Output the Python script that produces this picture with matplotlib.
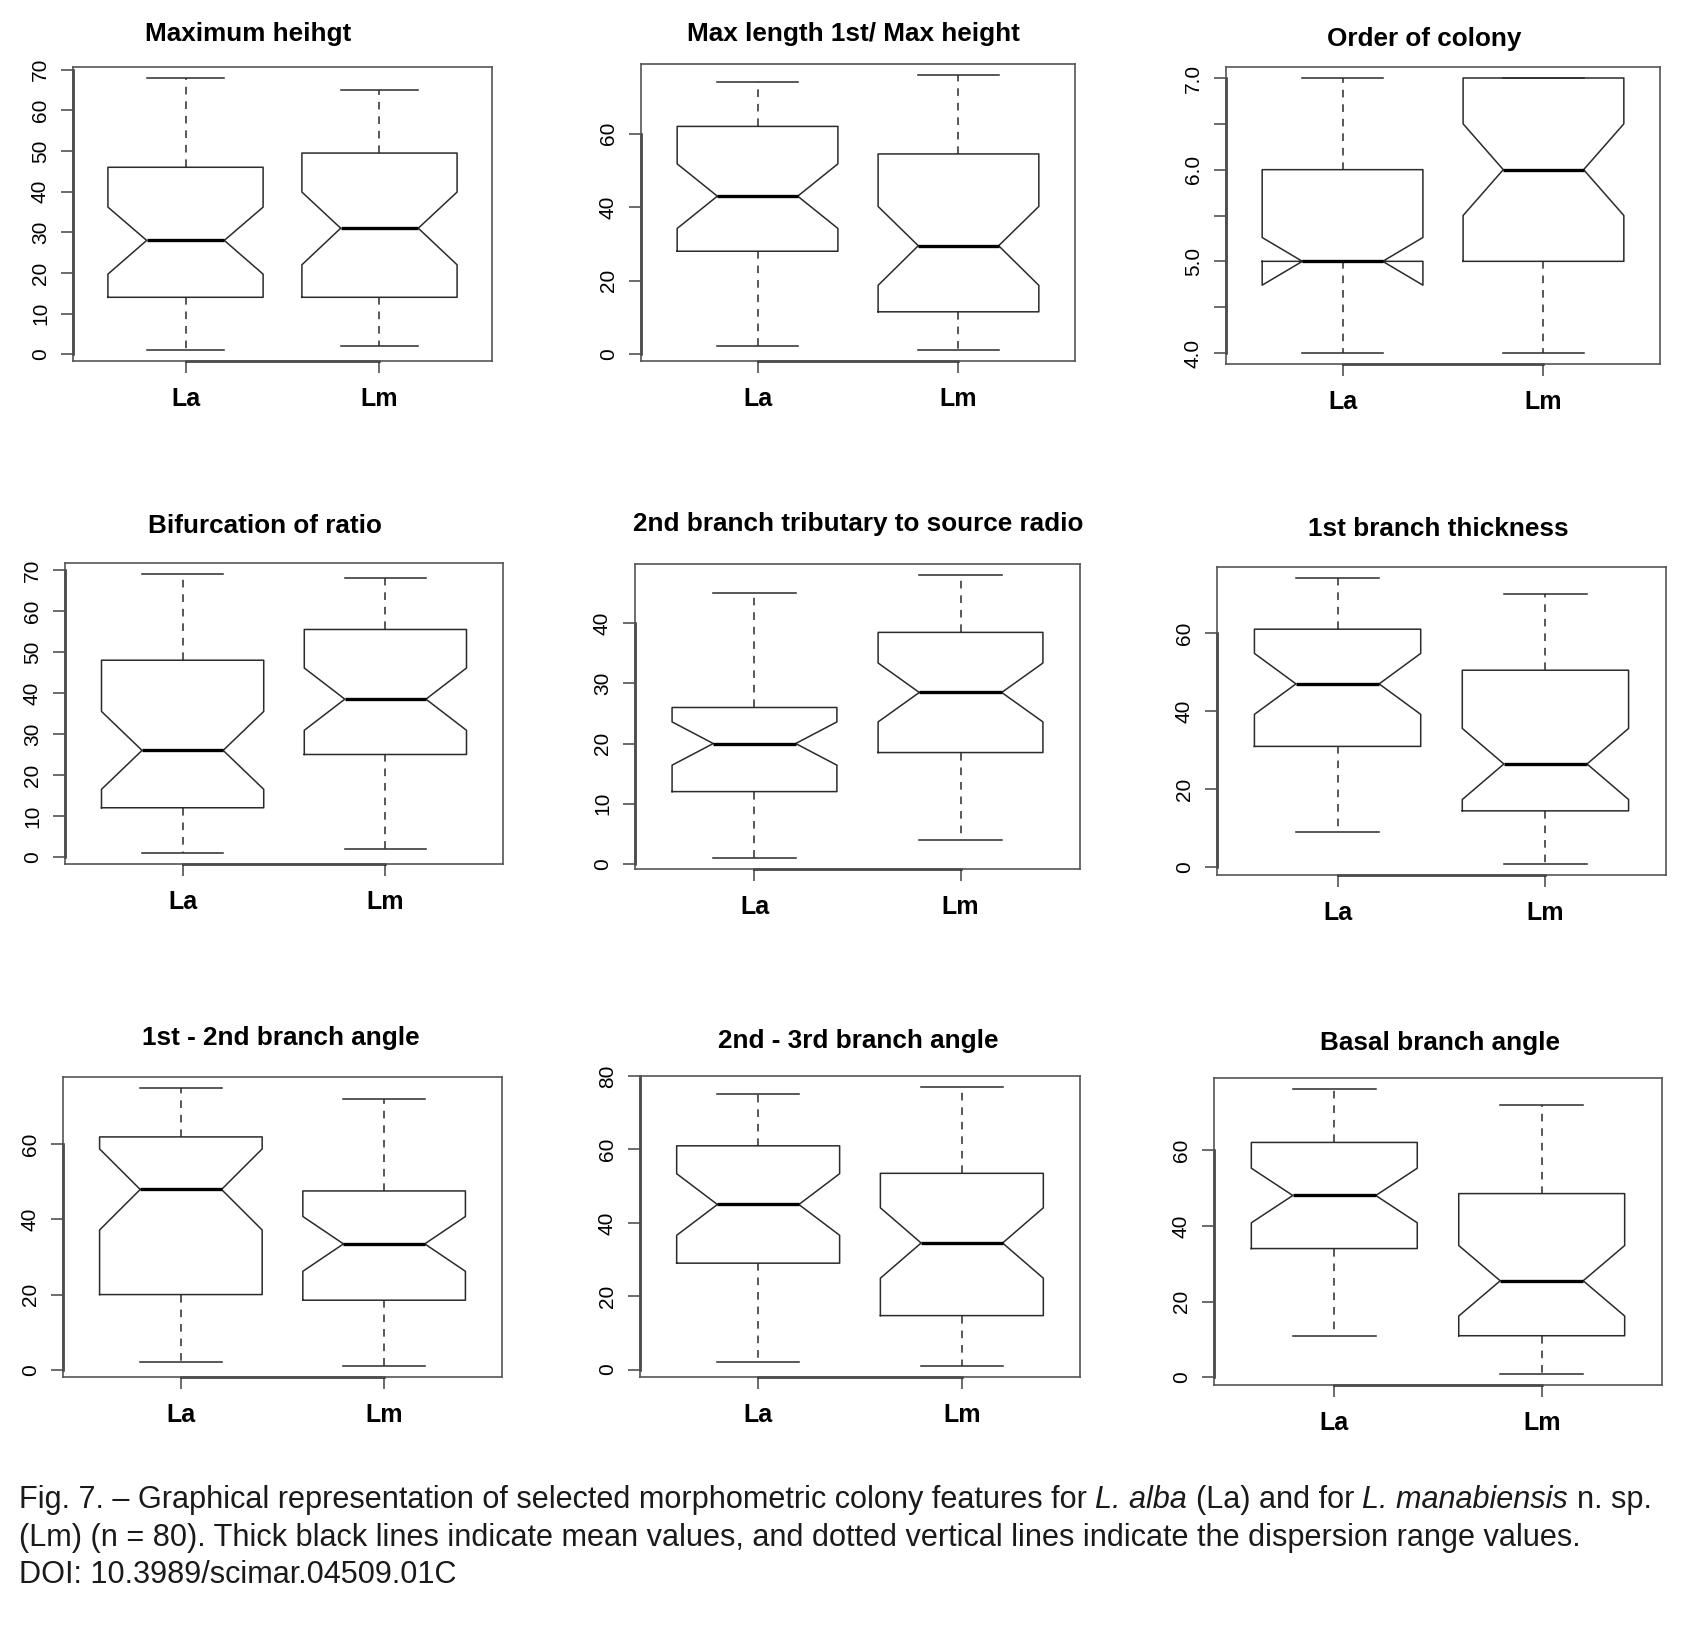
import matplotlib
matplotlib.use('Agg')
import matplotlib.pyplot as plt

plt.rcParams['font.family'] = ['Liberation Sans', 'DejaVu Sans']

# data (one entry per panel, [La, Lm])
groups = ['La', 'Lm']
titles = ['Maximum heihgt', 'Max length 1st/ Max height', 'Order of colony',
          'Bifurcation of ratio', '2nd branch tributary to source radio',
          '1st branch thickness', '1st - 2nd branch angle',
          '2nd - 3rd branch angle', 'Basal branch angle']

whisker_low = [[1, 2], [2.1, 1.1], [4, 4], [1, 2], [1, 4], [9, 1], [2, 1], [2, 1], [11, 1]]
q1 = [[14, 14], [28, 11.5], [5, 5], [12, 25], [12, 18.5], [31, 14.5], [20, 18.5], [29, 14.7], [34, 11]]
median = [[28, 31], [43, 29.5], [5, 6], [26, 38.5], [20, 28.5], [47, 26.5], [48, 33.5], [45, 34.5], [48, 25.5]]
q3 = [[46, 49.5], [62, 54.5], [6, 7], [48, 55.5], [26, 38.5], [61, 50.5], [62, 47.6], [61, 53.5], [62, 48.5]]
whisker_high = [[68, 65], [74, 76], [7, 7], [69, 68], [45, 48], [74, 70], [75, 72], [75, 77], [76, 72]]
notch_low = [[19.7, 22], [34.2, 18.7], [4.74, 5.5], [16.5, 30.9], [16.4, 23.6],
             [39.2, 17.4], [37.2, 26.2], [36.6, 24.9], [40.8, 16.2]]
notch_high = [[36.2, 39.9], [51.8, 40.2], [5.26, 6.5], [35.5, 46.1], [23.6, 33.4],
              [54.8, 35.6], [58.8, 40.8], [53.4, 44.1], [55.2, 34.8]]

ytick_vals = [[0, 10, 20, 30, 40, 50, 60, 70], [0, 20, 40, 60],
              [4.0, 4.5, 5.0, 5.5, 6.0, 6.5, 7.0], [0, 10, 20, 30, 40, 50, 60, 70],
              [0, 10, 20, 30, 40], [0, 20, 40, 60], [0, 20, 40, 60],
              [0, 20, 40, 60, 80], [0, 20, 40, 60]]
ytick_text = [['0', '10', '20', '30', '40', '50', '60', '70'], ['0', '20', '40', '60'],
              ['4.0', '', '5.0', '', '6.0', '', '7.0'],
              ['0', '10', '20', '30', '40', '50', '60', '70'],
              ['0', '10', '20', '30', '40'], ['0', '20', '40', '60'], ['0', '20', '40', '60'],
              ['0', '20', '40', '60', '80'], ['0', '20', '40', '60']]

# caption, split into (text, style) pieces joined by single spaces
caption = [
    [('Fig. 7. – Graphical representation of selected morphometric colony features for', 'normal'),
     ('L. alba', 'italic'), ('(La) and for', 'normal'), ('L. manabiensis', 'italic'),
     ('n. sp.', 'normal')],
    [('(Lm) (n = 80). Thick black lines indicate mean values, and dotted vertical lines '
      'indicate the dispersion range values.', 'normal')],
    [('DOI: 10.3989/scimar.04509.01C', 'normal')],
]

# layout in pixels: plot box (left, right, top, bottom) and title centre
W, H = 1683, 1637
boxes_px = [(73, 492, 67, 361), (641, 1075, 64, 361), (1226, 1660, 67, 364),
            (65, 503, 563, 864), (635, 1080, 564, 869), (1217, 1666, 567, 875),
            (63, 502, 1077, 1377), (640, 1080, 1076, 1377), (1214, 1662, 1078, 1385)]
title_px = [(248, 34), (853, 34), (1424, 39), (265, 526), (858, 524), (1438, 529),
            (281, 1038), (858, 1041), (1440, 1043)]

line_col = '#2b2b2b'
cap_size = 22.1

fig = plt.figure(figsize=(16.83, 16.37), dpi=100)

for i in range(9):
    l, r, t, b = boxes_px[i]
    ax = fig.add_axes([l / W, 1 - b / H, (r - l) / W, (b - t) / H])
    stats = []
    for j, g in enumerate(groups):
        stats.append(dict(label=g, med=median[i][j], q1=q1[i][j], q3=q3[i][j],
                          whislo=whisker_low[i][j], whishi=whisker_high[i][j],
                          cilo=notch_low[i][j], cihi=notch_high[i][j], fliers=[]))
    ax.bxp(stats, positions=[1, 2], widths=0.8, shownotches=True, showfliers=False,
           boxprops=dict(color=line_col, lw=1.1),
           whiskerprops=dict(color=line_col, lw=1.1, linestyle=(0, (5, 4.5))),
           capprops=dict(color=line_col, lw=1.1),
           medianprops=dict(color='black', lw=2.4))

    lo = min(whisker_low[i])
    hi = max(whisker_high[i])
    pad = 0.04 * (hi - lo)
    ax.set_ylim(lo - pad, hi + pad)
    ax.set_xlim(0.42, 2.58)

    ax.set_yticks(ytick_vals[i])
    ax.set_yticklabels(ytick_text[i], rotation=90, va='center', fontsize=15)
    for lab in ax.get_xticklabels():
        lab.set_fontsize(18)
        lab.set_fontweight('bold')
    ax.tick_params(direction='out', length=8.6, width=1.1, color='#444444')
    ax.tick_params(axis='x', pad=10)
    ax.tick_params(axis='y', pad=8)
    for s in ax.spines.values():
        s.set_color('#555555')
        s.set_linewidth(1.2)

    # R style axis lines between the outer ticks
    ax.plot([1, 2], [0, 0], transform=ax.get_xaxis_transform(),
            color='#222222', lw=1.8, clip_on=False)
    ax.plot([0, 0], [ytick_vals[i][0], ytick_vals[i][-1]], transform=ax.get_yaxis_transform(),
            color='#222222', lw=1.8, clip_on=False)

    tx, ty = title_px[i]
    fig.text(tx / W, 1 - ty / H, titles[i], ha='center', va='center',
             fontsize=18.8, fontweight='bold')

renderer = fig.canvas.get_renderer()


def text_width(s, style):
    t = fig.text(0, 0, s, fontsize=cap_size, style=style)
    w = t.get_window_extent(renderer).width
    t.remove()
    return w


space_w = text_width('x x', 'normal') - text_width('xx', 'normal')

cap_y = [1508, 1546, 1583]
for k, pieces in enumerate(caption):
    x = 19.0
    for s, style in pieces:
        fig.text(x / W, 1 - cap_y[k] / H, s, ha='left', va='baseline',
                 fontsize=cap_size, style=style, color='#1a1a1a')
        x += text_width(s, style) + space_w

fig.savefig('out.png', dpi=100)
